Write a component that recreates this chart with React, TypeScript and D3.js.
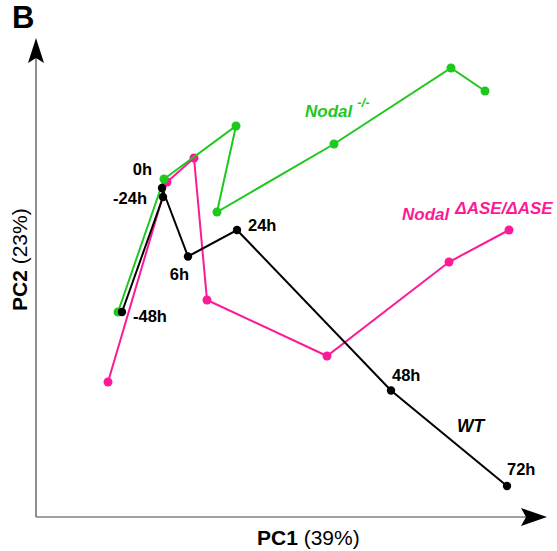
import React from "react";
import * as d3 from "d3";

// time points (same for all three series)
const times = ["-48h", "-24h", "0h", "6h", "24h", "48h", "72h"];

// PC coordinates (arbitrary units, no ticks shown)
const wtPC1 = [-2.8, 5.4, 5.2, 10.4, 20.2, 51.0, 74.2];
const wtPC2 = [1.0, 24.0, 25.8, 12.1, 17.4, -14.7, -33.8];

const nodalKoPC1 = [-3.6, 5.6, 20.0, 16.2, 39.6, 63.0, 69.8];
const nodalKoPC2 = [1.0, 27.6, 38.2, 21.0, 34.6, 49.8, 45.2];

const aseKoPC1 = [-5.6, 6.2, 11.6, 14.2, 38.2, 62.6, 74.6];
const aseKoPC2 = [-13.0, 27.0, 31.8, 3.4, -7.8, 11.0, 17.4];

// offsets for WT time labels [dx, dy, anchor]
const labelOffsets: [number, number, string][] = [
  [11, 10, "start"],
  [-16, 7, "end"],
  [-10, -13, "end"],
  [1, 23, "end"],
  [11, 1, "start"],
  [1, -10, "start"],
  [0, -11, "start"],
];

const GREEN = "#1ec81e";
const PINK = "#fc1a96";
const FONT = "'Liberation Sans', Arial, sans-serif";

const width = 557;
const height = 551;
const x0 = 36;
const y0 = 517;

export default function App() {
  const x = d3.scaleLinear().domain([-20, 80]).range([36, 536]);
  const y = d3.scaleLinear().domain([-40, 60]).range([517, 17]);

  const series = [
    { color: PINK, xs: aseKoPC1, ys: aseKoPC2, r: 4.5 },
    { color: GREEN, xs: nodalKoPC1, ys: nodalKoPC2, r: 4.5 },
    { color: "#000", xs: wtPC1, ys: wtPC2, r: 4.2 },
  ];

  const line = d3
    .line<[number, number]>()
    .x((d) => x(d[0]))
    .y((d) => y(d[1]));

  return (
    <div style={{ position: "absolute", left: 0, top: 0 }}>
      <svg width={width} height={height} style={{ display: "block", fontFamily: FONT }}>
        {/* axes with arrows */}
        <line x1={x0} y1={y0} x2={x0} y2={58} stroke="#444" strokeWidth={1.2} />
        <path d={`M${x0},38 L${x0 + 8},63 L${x0},58 L${x0 - 8},63 Z`} fill="#000" />
        <line x1={x0} y1={y0} x2={527} y2={y0} stroke="#444" strokeWidth={1.2} />
        <path d={`M547,${y0} L521,${y0 + 9} L526,${y0} L521,${y0 - 9} Z`} fill="#000" />

        {series.map((s, i) => {
          const pts = s.xs.map((v, j) => [v, s.ys[j]] as [number, number]);
          return (
            <g key={i}>
              <path d={line(pts) || ""} fill="none" stroke={s.color} strokeWidth={2} />
              {pts.map((p, j) => (
                <circle key={j} cx={x(p[0])} cy={y(p[1])} r={s.r} fill={s.color} />
              ))}
            </g>
          );
        })}

        {/* WT time labels */}
        {times.map((t, j) => (
          <text
            key={t}
            x={x(wtPC1[j]) + labelOffsets[j][0]}
            y={y(wtPC2[j]) + labelOffsets[j][1]}
            textAnchor={labelOffsets[j][2] as any}
            fontSize={16.5}
            fontWeight="bold"
          >
            {t}
          </text>
        ))}

        {/* series names */}
        <text x={457} y={432} fontSize={17.5} fontWeight="bold" fontStyle="italic">
          WT
        </text>
        <text x={305} y={117} fontSize={17} fontWeight="bold" fontStyle="italic" fill={GREEN}>
          Nodal
          <tspan dx={5} dy={-10} fontSize={13}>-/-</tspan>
        </text>
        <text x={402} y={220} fontSize={17} fontWeight="bold" fontStyle="italic" fill={PINK}>
          Nodal
          <tspan dx={6} dy={-6} fontSize={17}>ΔASE/ΔASE</tspan>
        </text>

        {/* axis titles */}
        <text x={257} y={545} fontSize={21}>
          <tspan fontWeight="bold">PC1</tspan> (39%)
        </text>
        <text transform="translate(27,311) rotate(-90)" fontSize={21}>
          <tspan fontWeight="bold">PC2</tspan> (23%)
        </text>

        <text x={12} y={28} fontSize={31} fontWeight="bold">
          B
        </text>
      </svg>
    </div>
  );
}
